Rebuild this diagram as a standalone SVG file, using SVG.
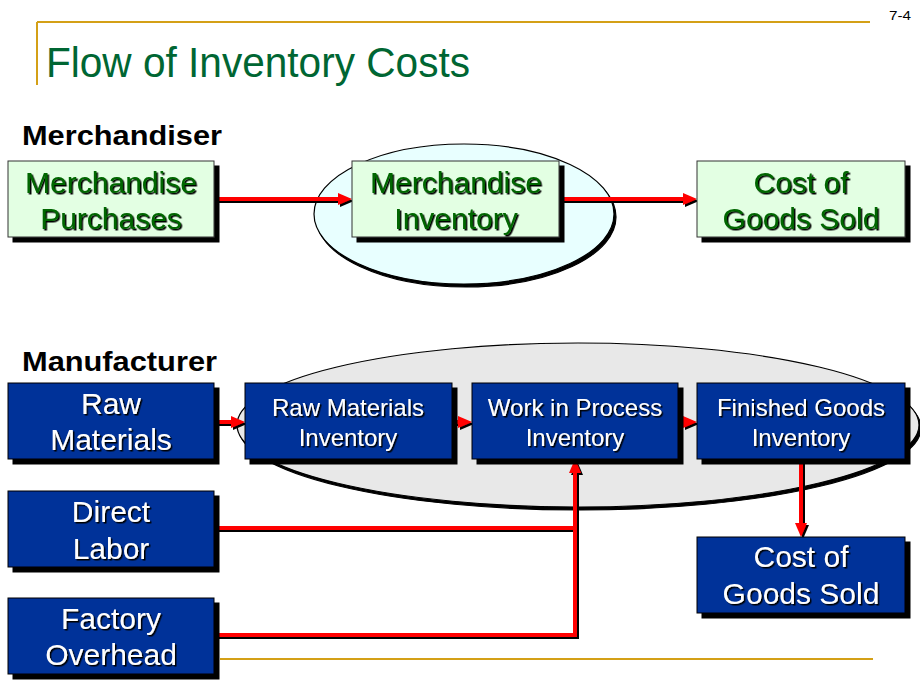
<svg xmlns="http://www.w3.org/2000/svg" width="920" height="690" viewBox="0 0 920 690">
<defs>
<style>
.gbox{fill:#E3FFE3;stroke:#333;stroke-width:1}
.bbox{fill:#003399;stroke:#000;stroke-width:1}
.gt{font-family:"Liberation Sans",Arial,sans-serif;font-size:30px;fill:#006600;text-anchor:middle}
.wt{font-family:"Liberation Sans",Arial,sans-serif;font-size:30px;fill:#fff;text-anchor:middle}
.ws{font-family:"Liberation Sans",Arial,sans-serif;font-size:24px;fill:#fff;text-anchor:middle}
.hd{font-family:"Liberation Sans",Arial,sans-serif;font-size:27px;font-weight:bold;fill:#000}
.conn{fill:none;stroke:#FF0000;stroke-width:4}
.gold{stroke:#D4A017;stroke-width:2;fill:none}
</style>
<filter id="bsh" x="-5%" y="-5%" width="115%" height="125%"><feDropShadow dx="5" dy="5" stdDeviation="0.4" flood-color="#000" flood-opacity="1"/></filter>
<filter id="esh" x="-5%" y="-5%" width="115%" height="115%"><feDropShadow dx="2" dy="3" stdDeviation="0.3" flood-color="#000" flood-opacity="1"/></filter>
<filter id="tsh" x="-5%" y="-10%" width="115%" height="130%"><feDropShadow dx="1.5" dy="1.5" stdDeviation="0.2" flood-color="#000" flood-opacity="1"/></filter>
<filter id="lsh" x="-5%" y="-5%" width="115%" height="115%"><feDropShadow dx="2" dy="2" stdDeviation="0.3" flood-color="#000" flood-opacity="1"/></filter>
<marker id="ah" markerUnits="userSpaceOnUse" markerWidth="16" markerHeight="14" refX="4" refY="6" orient="auto"><path d="M0,0 L14,6 L0,12 z" fill="#FF0000"/></marker>
</defs>
<rect x="0" y="0" width="920" height="690" fill="#fff"/>
<g id="frame">
<line class="gold" x1="37" y1="22" x2="870" y2="22"/>
<line class="gold" x1="37" y1="22" x2="37" y2="85"/>
<line class="gold" x1="220" y1="659" x2="873" y2="659"/>
<text x="46" y="77" font-family="'Liberation Sans',Arial,sans-serif" font-size="43" fill="#006633" textLength="424" lengthAdjust="spacingAndGlyphs">Flow of Inventory Costs</text>
<text x="889" y="20" font-family="'Liberation Sans',Arial,sans-serif" font-size="12" fill="#000" textLength="22" lengthAdjust="spacingAndGlyphs">7-4</text>
<text class="hd" x="22" y="145" textLength="200" lengthAdjust="spacingAndGlyphs">Merchandiser</text>
<text class="hd" x="22" y="371" textLength="195" lengthAdjust="spacingAndGlyphs">Manufacturer</text>
</g>
<g id="ellipses">
<ellipse cx="464" cy="214" rx="150" ry="70" fill="#E8FFFF" stroke="#000" stroke-width="1.2" filter="url(#esh)"/>
<ellipse cx="578" cy="425" rx="341" ry="82" fill="#E8E8E8" stroke="#000" stroke-width="1.2" filter="url(#esh)"/>
</g>
<g id="connectors" filter="url(#lsh)">
<line class="conn" x1="214" y1="199" x2="342" y2="199" marker-end="url(#ah)"/>
<line class="conn" x1="559" y1="199" x2="687" y2="199" marker-end="url(#ah)"/>
<line class="conn" x1="214" y1="422" x2="235" y2="422" marker-end="url(#ah)"/>
<line class="conn" x1="452" y1="422" x2="462" y2="422" marker-end="url(#ah)"/>
<line class="conn" x1="678" y1="422" x2="687" y2="422" marker-end="url(#ah)"/>
<line class="conn" x1="801" y1="459" x2="801" y2="527" marker-end="url(#ah)"/>
<polyline class="conn" points="214,528 575,528"/>
<polyline class="conn" points="214,635 575,635 575,469" marker-end="url(#ah)"/>
</g>
<g id="merch-purchases">
<rect class="gbox" x="8" y="161" width="206" height="76" filter="url(#bsh)"/>
<g filter="url(#tsh)"><text class="gt" x="111" y="193">Merchandise</text><text class="gt" x="111" y="229">Purchases</text></g>
</g>
<g id="merch-inventory">
<rect class="gbox" x="352" y="161" width="207" height="76" filter="url(#bsh)"/>
<g filter="url(#tsh)"><text class="gt" x="456" y="193">Merchandise</text><text class="gt" x="456" y="229">Inventory</text></g>
</g>
<g id="merch-cogs">
<rect class="gbox" x="697" y="161" width="208" height="76" filter="url(#bsh)"/>
<g filter="url(#tsh)"><text class="gt" x="801" y="193">Cost of</text><text class="gt" x="801" y="229">Goods Sold</text></g>
</g>
<g id="raw-materials">
<rect class="bbox" x="8" y="383" width="206" height="76" filter="url(#bsh)"/>
<g filter="url(#tsh)"><text class="wt" x="111" y="414">Raw</text><text class="wt" x="111" y="450">Materials</text></g>
</g>
<g id="rm-inventory">
<rect class="bbox" x="245" y="383" width="207" height="76" filter="url(#bsh)"/>
<g filter="url(#tsh)"><text class="ws" x="348" y="416">Raw Materials</text><text class="ws" x="348" y="446">Inventory</text></g>
</g>
<g id="wip-inventory">
<rect class="bbox" x="472" y="383" width="206" height="76" filter="url(#bsh)"/>
<g filter="url(#tsh)"><text class="ws" x="575" y="416">Work in Process</text><text class="ws" x="575" y="446">Inventory</text></g>
</g>
<g id="fg-inventory">
<rect class="bbox" x="697" y="383" width="208" height="76" filter="url(#bsh)"/>
<g filter="url(#tsh)"><text class="ws" x="801" y="416">Finished Goods</text><text class="ws" x="801" y="446">Inventory</text></g>
</g>
<g id="direct-labor">
<rect class="bbox" x="8" y="491" width="206" height="76" filter="url(#bsh)"/>
<g filter="url(#tsh)"><text class="wt" x="111" y="522">Direct</text><text class="wt" x="111" y="559">Labor</text></g>
</g>
<g id="factory-overhead">
<rect class="bbox" x="8" y="598" width="206" height="76" filter="url(#bsh)"/>
<g filter="url(#tsh)"><text class="wt" x="111" y="629">Factory</text><text class="wt" x="111" y="665">Overhead</text></g>
</g>
<g id="mfg-cogs">
<rect class="bbox" x="697" y="537" width="208" height="76" filter="url(#bsh)"/>
<g filter="url(#tsh)"><text class="wt" x="801" y="567">Cost of</text><text class="wt" x="801" y="604">Goods Sold</text></g>
</g>
</svg>
